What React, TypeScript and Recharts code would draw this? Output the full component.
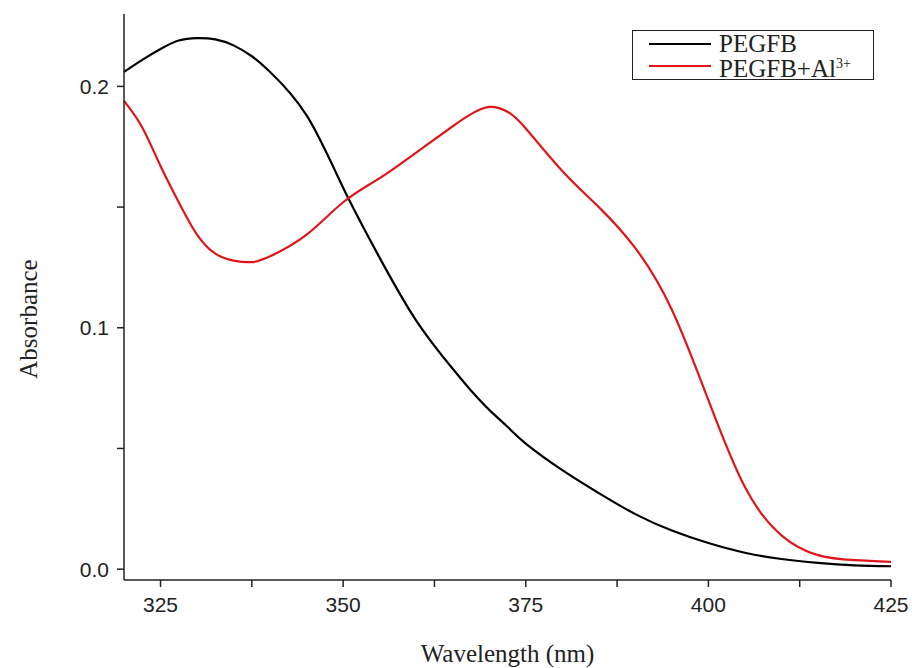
import { LineChart, Line, XAxis, YAxis } from "recharts";

// wavelength (nm)
const wavelengths = [
  320, 322.5, 325, 327.5, 330, 332.5, 335, 337.5, 340, 345, 350, 355, 360,
  365, 367.5, 370, 372.5, 375, 380, 385, 390, 395, 400, 405, 410, 415, 420, 425,
];

// absorbance, PEGFB alone
const pegfb = [
  0.206, 0.211, 0.2155, 0.219, 0.22, 0.2195, 0.217, 0.2125, 0.206, 0.188,
  0.158, 0.129, 0.103, 0.083, 0.074, 0.066, 0.059, 0.052, 0.041, 0.0315,
  0.0228, 0.016, 0.0108, 0.0068, 0.0042, 0.0026, 0.0016, 0.0012,
];

// absorbance, PEGFB + Al3+
const pegfbAl = [
  0.194, 0.183, 0.167, 0.152, 0.1386, 0.1307, 0.1278, 0.1272, 0.1296, 0.1386,
  0.152, 0.162, 0.1726, 0.1835, 0.1885, 0.1915, 0.1895, 0.1826, 0.165, 0.15,
  0.133, 0.1075, 0.07, 0.034, 0.014, 0.0058, 0.0037, 0.003,
];

const xTicks = [325, 337.5, 350, 362.5, 375, 387.5, 400, 412.5, 425];
const xLabels = [325, 350, 375, 400, 425];
const yTicks = [0, 0.05, 0.1, 0.15, 0.2];
const yLabels = [0, 0.1, 0.2];

const series = [
  { key: "pegfb", name: "PEGFB", color: "#000000" },
  { key: "pegfbAl", name: "PEGFB+Al", sup: "3+", color: "#e0161b" },
];

const data = wavelengths.map((w, i) => ({
  w,
  pegfb: pegfb[i],
  pegfbAl: pegfbAl[i],
}));

const AXIS = "#222";
const tickFont = { fontFamily: "Liberation Sans, Arial, sans-serif", fontSize: 21, fill: "#222" };
const serif = "Liberation Serif, Times New Roman, serif";

export default function App() {
  return (
    <div style={{ position: "absolute", left: 0, top: 0, width: 912, height: 668, background: "#fff" }}>
      <LineChart
        width={912}
        height={668}
        data={data}
        margin={{ top: 14, right: 21, left: 0, bottom: 0 }}
      >
        <XAxis
          dataKey="w"
          type="number"
          domain={[320, 425]}
          ticks={xTicks}
          interval={0}
          tickFormatter={(v) => (xLabels.includes(v) ? String(v) : "")}
          height={88}
          stroke={AXIS}
          strokeWidth={1.5}
          tickSize={7}
          tickMargin={10}
          tick={tickFont}
          label={{
            value: "Wavelength (nm)",
            position: "insideBottom",
            offset: 6,
            style: { fontFamily: serif, fontSize: 25, fill: "#222" },
          }}
        />
        <XAxis
          xAxisId="top"
          orientation="top"
          type="number"
          domain={[320, 425]}
          height={0}
          tick={false}
          tickLine={false}
          stroke={AXIS}
          strokeWidth={1.5}
        />
        <YAxis
          type="number"
          domain={[-0.0045, 0.23]}
          ticks={yTicks}
          interval={0}
          tickFormatter={(v) => (yLabels.includes(v) ? v.toFixed(1) : "")}
          width={124}
          stroke={AXIS}
          strokeWidth={1.5}
          tickSize={7}
          tickMargin={8}
          tick={tickFont}
          label={{
            value: "Absorbance",
            angle: -90,
            position: "insideLeft",
            offset: 28,
            dy: 22,
            style: { fontFamily: serif, fontSize: 25, fill: "#222", textAnchor: "middle" },
          }}
        />
        <YAxis
          yAxisId="right"
          orientation="right"
          type="number"
          domain={[-0.0045, 0.23]}
          width={0}
          tick={false}
          tickLine={false}
          stroke={AXIS}
          strokeWidth={1.5}
        />
        {series.map((s) => (
          <Line
            key={s.key}
            type="natural"
            dataKey={s.key}
            stroke={s.color}
            strokeWidth={2.2}
            dot={false}
            isAnimationActive={false}
          />
        ))}
      </LineChart>
      <div
        style={{
          position: "absolute",
          left: 632,
          top: 30,
          width: 242,
          height: 50,
          boxSizing: "border-box",
          border: `1.5px solid ${AXIS}`,
          background: "#fff",
          fontFamily: serif,
          fontSize: 25,
          color: "#222",
          paddingTop: 2,
        }}
      >
        {series.map((s) => (
          <div key={s.key} style={{ display: "flex", alignItems: "center", height: 22 }}>
            <div style={{ width: 62, height: 2.5, background: s.color, marginLeft: 16, marginRight: 8 }} />
            <span style={{ lineHeight: "22px" }}>
              {s.name}
              {s.sup && <sup style={{ fontSize: 14, verticalAlign: "9px" }}>{s.sup}</sup>}
            </span>
          </div>
        ))}
      </div>
    </div>
  );
}
